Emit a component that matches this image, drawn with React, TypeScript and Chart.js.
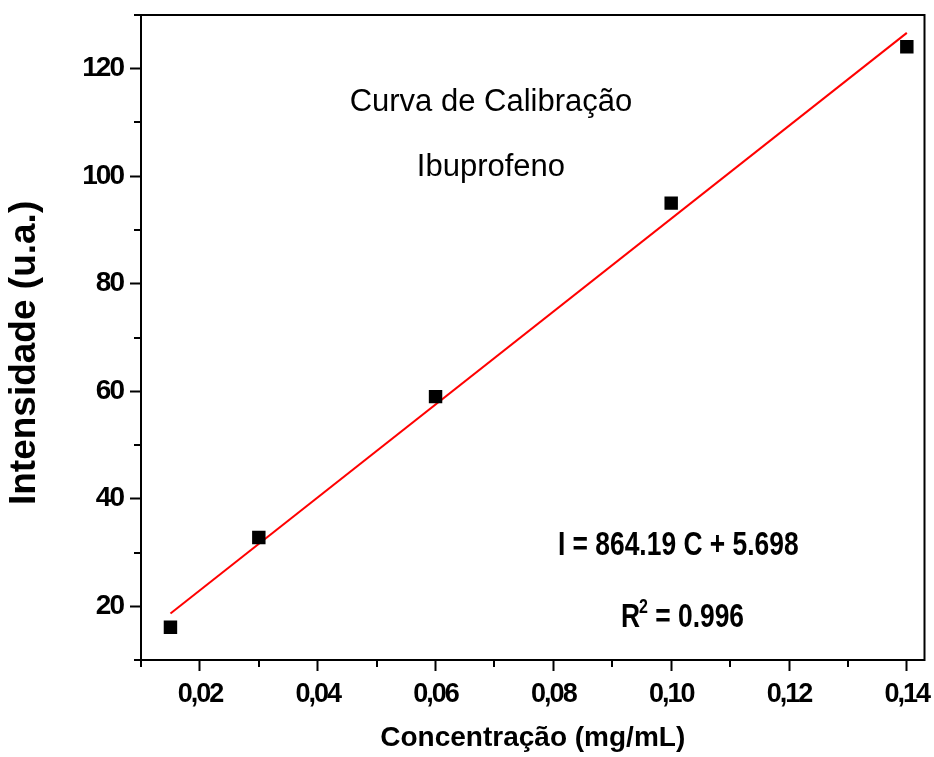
import React, { useEffect, useRef } from "react";
import { Chart, registerables } from "chart.js";

Chart.register(...registerables);

// ---- data ----
const CONCENTRATION = [0.015, 0.03, 0.06, 0.1, 0.14];
const INTENSITY = [16.1, 32.8, 59.0, 95.0, 124.1];
const FIT_X = [0.015, 0.14];
const FIT_Y = [18.66, 126.68];

const X_MIN = 0.01;
const X_MAX = 0.143;
const X_STEP = 0.01;
const Y_MIN = 10;
const Y_MAX = 130;
const Y_STEP = 10;

const X_TITLE = "Concentração (mg/mL)";
const Y_TITLE = "Intensidade (u.a.)";
const HEAD_LINES = ["Curva de Calibração", "Ibuprofeno"];
const EQUATION = "I = 864.19 C + 5.698";
const R2_VALUE = "0.996";

// ---- annotation anchors (data units) ----
const HEAD_POS = [
  { x: 0.0694, y: 112.2 },
  { x: 0.0694, y: 100.1 },
];
const EQ_POS = { x: 0.1012, y: 29.6 };
const R2_POS = { x: 0.102, y: 16.1 };

const SANS = "'Liberation Sans', Arial, sans-serif";
const CONDENSE = 0.8;

const isMajorX = (v: number) => Math.round(v / X_STEP) % 2 === 0;
const isMajorY = (v: number) => Math.round(v / Y_STEP) % 2 === 0;

const noPad = (s: any) => {
  s.paddingLeft = 0;
  s.paddingRight = 0;
  s.paddingTop = 0;
  s.paddingBottom = 0;
};

const framePlugin = {
  id: "frame",
  afterDraw(chart: any) {
    const { ctx, chartArea: a, scales } = chart;
    ctx.save();
    ctx.letterSpacing = "0px";
    ctx.strokeStyle = "#000";
    ctx.lineWidth = 2;
    ctx.strokeRect(a.left, a.top, a.right - a.left, a.bottom - a.top);
    const xs = scales.x;
    xs.ticks.forEach((t: any) => {
      if (!isMajorX(t.value)) {
        const px = Math.round(xs.getPixelForValue(t.value));
        ctx.beginPath();
        ctx.moveTo(px, a.bottom);
        ctx.lineTo(px, a.bottom + 7);
        ctx.stroke();
      }
    });
    const ys = scales.y;
    ys.ticks.forEach((t: any) => {
      if (!isMajorY(t.value)) {
        const py = Math.round(ys.getPixelForValue(t.value));
        ctx.beginPath();
        ctx.moveTo(a.left, py);
        ctx.lineTo(a.left - 7, py);
        ctx.stroke();
      }
    });
    ctx.restore();
    ctx.letterSpacing = "0px";
  },
};

// draws text horizontally condensed, anchored at (cx, cy)
function condensedText(ctx: any, text: string, cx: number, cy: number, align: "center" | "left") {
  ctx.save();
  ctx.translate(cx, cy);
  ctx.scale(CONDENSE, 1);
  ctx.textAlign = align;
  ctx.fillText(text, 0, 0);
  ctx.restore();
}

const annotationPlugin = {
  id: "annotations",
  afterDatasetsDraw(chart: any) {
    const { ctx, scales } = chart;
    const x = scales.x;
    const y = scales.y;
    ctx.save();
    ctx.letterSpacing = "0px";
    ctx.fillStyle = "#000";
    ctx.textBaseline = "alphabetic";
    ctx.textAlign = "center";
    ctx.font = `31px ${SANS}`;
    HEAD_LINES.forEach((t, i) => {
      ctx.fillText(t, x.getPixelForValue(HEAD_POS[i].x), y.getPixelForValue(HEAD_POS[i].y));
    });
    const big = `bold 33px ${SANS}`;
    const small = `bold 20px ${SANS}`;
    ctx.font = big;
    condensedText(ctx, EQUATION, x.getPixelForValue(EQ_POS.x), y.getPixelForValue(EQ_POS.y), "center");

    const rest = ` = ${R2_VALUE}`;
    ctx.font = big;
    const wR = ctx.measureText("R").width * CONDENSE;
    const wRest = ctx.measureText(rest).width * CONDENSE;
    ctx.font = small;
    const w2 = ctx.measureText("2").width * CONDENSE;
    const cx = x.getPixelForValue(R2_POS.x);
    const cy = y.getPixelForValue(R2_POS.y);
    let px = cx - (wR + w2 + wRest) / 2;
    ctx.font = big;
    condensedText(ctx, "R", px, cy, "left");
    px += wR - 1;
    ctx.font = small;
    condensedText(ctx, "2", px, cy - 14, "left");
    px += w2;
    ctx.font = big;
    condensedText(ctx, rest, px, cy, "left");
    ctx.restore();
    // tick labels (drawn in a later layer) use tighter spacing
    ctx.letterSpacing = "-2px";
  },
};

export default function App() {
  const ref = useRef<HTMLCanvasElement>(null);

  useEffect(() => {
    if (!ref.current) return;
    const chart = new Chart(ref.current, {
      type: "scatter",
      data: {
        datasets: [
          {
            label: "Intensidade",
            data: CONCENTRATION.map((c, i) => ({ x: c, y: INTENSITY[i] })),
            pointStyle: "rect",
            pointRadius: 9.5,
            pointBackgroundColor: "#000",
            pointBorderColor: "#000",
            pointBorderWidth: 0,
            showLine: false,
            order: 1,
          },
          {
            label: "Ajuste",
            data: FIT_X.map((c, i) => ({ x: c, y: FIT_Y[i] })),
            showLine: true,
            borderColor: "#ff0000",
            borderWidth: 2,
            pointRadius: 0,
            order: 2,
          },
        ],
      },
      options: {
        animation: false,
        responsive: false,
        layout: { padding: { top: 15, right: 7, left: 0, bottom: 0 } },
        plugins: {
          legend: { display: false },
          tooltip: { enabled: false },
        },
        scales: {
          x: {
            type: "linear",
            min: X_MIN,
            max: X_MAX,
            afterFit: (s: any) => {
              s.height = 97;
              noPad(s);
            },
            ticks: {
              z: 1,
              stepSize: X_STEP,
              includeBounds: false,
              autoSkip: false,
              maxRotation: 0,
              padding: 7,
              color: "#000",
              font: { family: SANS, size: 27, weight: "bold" },
              callback: (v: any) => (isMajorX(Number(v)) ? Number(v).toFixed(2).replace(".", ",") : ""),
            },
            grid: {
              drawOnChartArea: false,
              drawTicks: true,
              tickLength: 11,
              tickWidth: 2,
              tickColor: (c: any) => (c.tick && isMajorX(c.tick.value) ? "#000" : "rgba(0,0,0,0)"),
            },
            border: { display: true, color: "#000", width: 2 },
            title: {
              display: true,
              text: X_TITLE,
              color: "#000",
              font: { family: SANS, size: 28, weight: "bold", lineHeight: 1 },
              padding: { top: 0, bottom: 5 },
            },
          },
          y: {
            type: "linear",
            min: Y_MIN,
            max: Y_MAX,
            afterFit: (s: any) => {
              s.width = 141;
              noPad(s);
            },
            ticks: {
              z: 1,
              stepSize: Y_STEP,
              autoSkip: false,
              padding: 7,
              color: "#000",
              font: { family: SANS, size: 28, weight: "bold" },
              callback: (v: any) => (isMajorY(Number(v)) ? String(v) : ""),
            },
            grid: {
              drawOnChartArea: false,
              drawTicks: true,
              tickLength: 11,
              tickWidth: 2,
              tickColor: (c: any) => (c.tick && isMajorY(c.tick.value) ? "#000" : "rgba(0,0,0,0)"),
            },
            border: { display: true, color: "#000", width: 2 },
            title: {
              display: true,
              text: Y_TITLE + "   ",
              color: "#000",
              font: { family: SANS, size: 37, weight: "bold", lineHeight: 1 },
              padding: { top: 6, bottom: 0 },
            },
          },
        },
      },
      plugins: [framePlugin, annotationPlugin],
    });
    return () => chart.destroy();
  }, []);

  return (
    <div style={{ position: "fixed", left: 0, top: 0, width: 934, height: 757, background: "#fff" }}>
      <canvas ref={ref} width={934} height={757} style={{ display: "block", width: 934, height: 757 }} />
    </div>
  );
}
